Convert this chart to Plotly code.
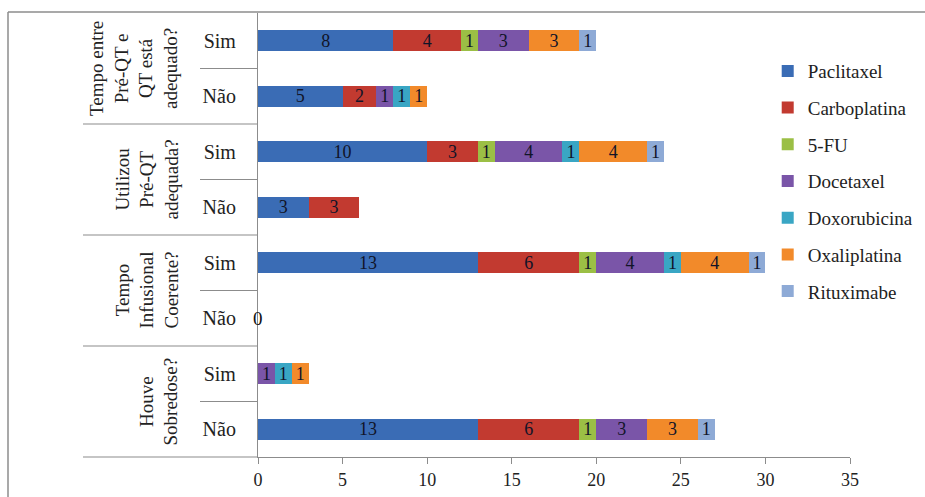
import plotly.graph_objects as go

# ---------------- data ----------------
groups = ["Tempo entre Pré-QT e QT está adequado?", "Utilizou Pré-QT adequada?",
          "Tempo Infusional Coerente?", "Houve Sobredose?"]
group_labels = ["Tempo entre<br>Pré-QT e<br>QT está<br>adequado?",
                "Utilizou<br>Pré-QT<br>adequada?",
                "Tempo<br>Infusional<br>Coerente?",
                "Houve<br>Sobredose?"]
answers = ["Sim", "Não"]

# rows top -> bottom: (group, answer)
rows = [(g, a) for g in groups for a in answers]
row_ids = [f"{g} | {a}" for g, a in rows]
row_ticks = [a for g, a in rows]

series_names = ["Paclitaxel", "Carboplatina", "5-FU", "Docetaxel",
                "Doxorubicina", "Oxaliplatina", "Rituximabe"]
paclitaxel   = [8, 5, 10, 3, 13, 0, 0, 13]
carboplatina = [4, 2, 3, 3, 6, 0, 0, 6]
fu5          = [1, 0, 1, 0, 1, 0, 0, 1]
docetaxel    = [3, 1, 4, 0, 4, 0, 1, 3]
doxorubicina = [0, 1, 1, 0, 1, 0, 1, 0]
oxaliplatina = [3, 1, 4, 0, 4, 0, 1, 3]
rituximabe   = [1, 0, 1, 0, 1, 0, 0, 1]
series_values = [paclitaxel, carboplatina, fu5, docetaxel,
                 doxorubicina, oxaliplatina, rituximabe]

x_ticks = [0, 5, 10, 15, 20, 25, 30, 35]

# ---------------- style ----------------
colors = ["#3a6cb5", "#c23a30", "#9bbf45", "#7a55a8", "#39a6c4", "#f28a2a", "#8eaad6"]
FONT = "Liberation Serif, Times New Roman, serif"
W, H = 925, 497
L, R, T, B = 258, 75, 13, 40
pw, ph = W - L - R, H - T - B

fig = go.Figure()
for name, vals, col in zip(series_names, series_values, colors):
    fig.add_trace(go.Bar(
        y=row_ids, x=vals, name=name, orientation="h",
        marker=dict(color=col, line=dict(width=0)),
        text=[str(v) if v else "" for v in vals],
        textposition="inside", insidetextanchor="middle", constraintext="none",
        textangle=0,
        textfont=dict(family=FONT, size=18, color="#111428"),
        legendgroup=name,
    ))

n = len(row_ids)

def ypx_to_paper(py):
    return (H - B - py) / ph

def xpx_to_paper(px):
    return (px - L) / pw

def boundary_paper(k):
    # boundary between row k-1 and k (k=0 top edge, k=n bottom edge)
    return 1 - k / n

shapes = []
line_col = "#8c8c8c"
# frame (left + top)
shapes.append(dict(type="line", xref="paper", yref="paper",
                   x0=xpx_to_paper(8), x1=xpx_to_paper(8),
                   y0=ypx_to_paper(H + 5), y1=ypx_to_paper(12),
                   line=dict(color=line_col, width=1.5)))
shapes.append(dict(type="line", xref="paper", yref="paper",
                   x0=xpx_to_paper(8), x1=xpx_to_paper(W + 5),
                   y0=ypx_to_paper(12), y1=ypx_to_paper(12),
                   line=dict(color=line_col, width=1.5)))
# separators
for k in range(1, n + 1):
    x0 = xpx_to_paper(83) if k % 2 == 0 else xpx_to_paper(200)
    shapes.append(dict(type="line", xref="paper", yref="paper",
                       x0=x0, x1=0, y0=boundary_paper(k), y1=boundary_paper(k),
                       line=dict(color=line_col, width=1.2)))

annotations = []
for i, lab in enumerate(group_labels):
    yc = (boundary_paper(2 * i) + boundary_paper(2 * i + 2)) / 2
    annotations.append(dict(
        text=lab, xref="paper", yref="paper", x=xpx_to_paper(183), y=yc,
        xanchor="right", yanchor="middle", textangle=-90, showarrow=False,
        align="center", font=dict(family=FONT, size=19, color="#222")))

# "0" labels for empty rows
totals = [sum(v[i] for v in series_values) for i in range(n)]
for rid, tot in zip(row_ids, totals):
    if tot == 0:
        annotations.append(dict(text="0", x=0, y=rid, xref="x", yref="y",
                                xanchor="center", showarrow=False,
                                font=dict(family=FONT, size=19, color="#111")))

fig.update_layout(
    width=W, height=H,
    margin=dict(l=L, r=R, t=T, b=B, pad=0, autoexpand=False),
    barmode="stack", bargap=0.62,
    paper_bgcolor="white", plot_bgcolor="white",
    font=dict(family=FONT, size=18, color="#222"),
    xaxis=dict(range=[0, 35], tickvals=x_ticks, showgrid=False, zeroline=False,
               showline=True, linecolor=line_col, linewidth=1.2,
               ticks="outside", ticklen=6, tickcolor=line_col, automargin=False,
               tickfont=dict(family=FONT, size=18, color="#222")),
    yaxis=dict(categoryorder="array", categoryarray=row_ids,
               range=[n - 0.5, -0.5], tickvals=row_ids, ticktext=row_ticks,
               showgrid=False, zeroline=False, showline=True,
               linecolor=line_col, linewidth=1.2, ticks="", automargin=False,
               ticklabelstandoff=17,
               tickfont=dict(family=FONT, size=20, color="#222")),
    legend=dict(x=0.861, y=0.912, xanchor="left", yanchor="top",
                traceorder="grouped", tracegroupgap=9,
                bgcolor="rgba(0,0,0,0)",
                font=dict(family=FONT, size=19, color="#222")),
    shapes=shapes, annotations=annotations,
)

fig.write_html("out.html")
